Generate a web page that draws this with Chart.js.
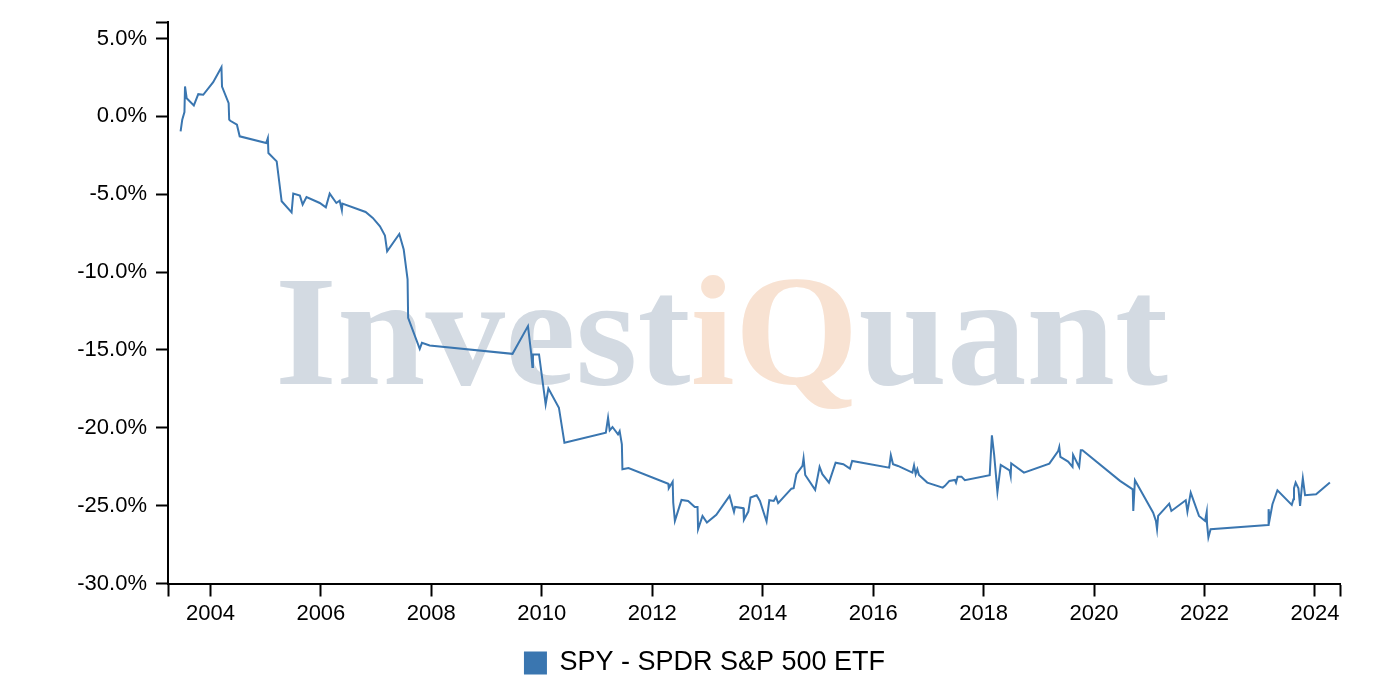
<!DOCTYPE html>
<html>
<head>
<meta charset="utf-8">
<script src="https://cdn.jsdelivr.net/npm/chart.js@4.4.1/dist/chart.umd.min.js"></script>
<style>
html,body{margin:0;padding:0;background:#fff;}
#wrap{width:1378px;height:696px;position:relative;}
</style>
</head>
<body>
<div id="wrap"><canvas id="c"></canvas></div>
<script>
const seriesName = 'SPY - SPDR S&P 500 ETF';
// decimal years
const dates = [2003.46,2003.49,2003.53,2003.54,2003.57,2003.70,2003.78,2003.87,2004.05,2004.20,
2004.21,2004.33,2004.34,2004.36,2004.48,2004.53,2005.01,2005.04,2005.05,2005.20,
2005.29,2005.47,2005.50,2005.62,2005.67,2005.74,2005.98,2006.09,2006.16,2006.28,
2006.34,2006.38,2006.39,2006.81,2006.94,2007.07,2007.16,2007.20,2007.42,2007.50,
2007.57,2007.58,2007.79,2007.83,2007.97,2009.47,2009.75,2009.81,2009.83,2009.84,
2009.95,2010.07,2010.12,2010.31,2010.41,2011.16,2011.20,2011.23,2011.28,2011.38,
2011.41,2011.45,2011.46,2011.57,2012.29,2012.30,2012.37,2012.38,2012.41,2012.53,
2012.65,2012.77,2012.82,2012.83,2012.91,2012.99,2013.16,2013.40,2013.45,2013.48,
2013.50,2013.65,2013.66,2013.74,2013.78,2013.89,2013.95,2014.07,2014.12,2014.20,
2014.24,2014.28,2014.52,2014.56,2014.61,2014.72,2014.74,2014.77,2014.95,2015.03,
2015.08,2015.20,2015.32,2015.46,2015.58,2015.62,2016.29,2016.32,2016.36,2016.45,
2016.71,2016.74,2016.77,2016.80,2016.83,2016.98,2017.26,2017.30,2017.38,2017.48,
2017.50,2017.53,2017.60,2017.66,2018.11,2018.15,2018.19,2018.25,2018.31,2018.47,
2018.49,2018.50,2018.73,2019.19,2019.35,2019.37,2019.39,2019.53,2019.61,2019.62,
2019.73,2019.76,2019.79,2020.47,2020.70,2020.71,2020.74,2021.07,2021.12,2021.14,
2021.16,2021.36,2021.40,2021.66,2021.69,2021.75,2021.90,2022.01,2022.04,2022.045,
2022.07,2022.11,2023.15,2023.16,2023.18,2023.23,2023.32,2023.58,2023.61,2023.62,
2023.65,2023.70,2023.73,2023.76,2023.78,2023.82,2024.02,2024.27];
// percent values
const spyReturns = [-0.96,-0.21,0.28,1.92,1.17,0.71,1.43,1.39,2.20,3.16,
1.92,0.85,-0.21,-0.28,-0.53,-1.28,-1.71,-1.39,-2.35,-2.89,
-5.45,-6.16,-4.96,-5.09,-5.66,-5.18,-5.56,-5.84,-4.96,-5.56,
-5.41,-6.03,-5.60,-6.14,-6.52,-7.06,-7.65,-8.66,-7.55,-8.55,
-10.47,-12.94,-14.93,-14.54,-14.71,-15.25,-13.47,-15.29,-16.10,-15.29,
-15.29,-18.49,-17.47,-18.71,-20.96,-20.31,-19.35,-20.16,-19.95,-20.42,
-20.21,-21.06,-22.66,-22.58,-23.59,-23.88,-23.46,-24.80,-25.98,-24.63,
-24.70,-25.08,-25.08,-26.51,-25.66,-26.09,-25.59,-24.37,-25.02,-25.40,
-25.08,-25.16,-25.91,-25.38,-24.48,-24.33,-24.70,-26.02,-24.65,-24.70,
-24.44,-24.84,-23.91,-23.88,-22.98,-22.45,-21.96,-23.03,-23.99,-22.51,
-22.98,-23.52,-22.24,-22.34,-22.62,-22.13,-22.56,-21.76,-22.34,-22.45,
-22.88,-22.41,-22.98,-22.66,-23.03,-23.52,-23.84,-23.73,-23.41,-23.35,
-23.52,-23.14,-23.14,-23.37,-23.05,-20.48,-21.70,-24.12,-22.39,-22.73,
-23.09,-22.28,-22.88,-22.30,-21.49,-21.23,-21.87,-22.17,-22.51,-21.74,
-22.51,-21.44,-21.44,-23.41,-23.95,-25.34,-23.37,-25.45,-25.98,-26.51,
-25.66,-24.87,-25.34,-24.65,-25.38,-24.16,-25.66,-25.98,-25.40,-26.14,
-27.04,-26.51,-26.25,-25.23,-25.87,-24.91,-24.01,-24.95,-24.59,-23.88,
-23.52,-23.88,-25.02,-23.88,-23.24,-24.33,-24.27,-23.52];
const xTickYears = [2004,2006,2008,2010,2012,2014,2016,2018,2020,2022,2024];
const yTickValues = [-30,-25,-20,-15,-10,-5,0,5];
const xRange = [2003.232, 2024.453];
const yRange = [-30, 6.05];
const watermarkParts = [['Invest','#d3dae2'],['iQ','#f8e2d2'],['uant','#d3dae2']];

const FONT = '"Liberation Sans", Arial, Helvetica, sans-serif';
const LINE_COLOR = '#3a76b0';

const watermark = {
  id: 'watermark',
  beforeDatasetsDraw(chart) {
    const ctx = chart.ctx;
    ctx.save();
    ctx.font = 'bold 156px "Liberation Serif", "Times New Roman", serif';
    ctx.textBaseline = 'alphabetic';
    let total = 0;
    for (const p of watermarkParts) total += ctx.measureText(p[0]).width;
    const left = 275, right = 1168, base = 384;
    ctx.translate(left, base);
    ctx.scale((right - left) / total, 1);
    let x = 0;
    for (const [t, c] of watermarkParts) {
      ctx.fillStyle = c;
      ctx.fillText(t, x, 0);
      x += ctx.measureText(t).width;
    }
    ctx.restore();
  }
};

new Chart(document.getElementById('c'), {
  type: 'line',
  data: {
    datasets: [{
      label: seriesName,
      data: dates.map((d, i) => ({x: d, y: spyReturns[i]})),
      borderColor: LINE_COLOR,
      backgroundColor: LINE_COLOR,
      borderWidth: 2,
      pointRadius: 0,
      pointHoverRadius: 0,
      tension: 0,
      fill: false
    }]
  },
  options: {
    responsive: true,
    maintainAspectRatio: false,
    animation: false,
    layout: { padding: { left: 70, right: 38, top: 20.7, bottom: 9.5 } },
    plugins: {
      tooltip: { enabled: false },
      legend: {
        position: 'bottom',
        labels: {
          color: '#000',
          font: { family: FONT, size: 27 },
          boxWidth: 21,
          boxHeight: 21,
          padding: 10
        }
      }
    },
    scales: {
      x: {
        type: 'linear',
        min: xRange[0],
        max: xRange[1],
        afterBuildTicks: s => { s.ticks = [xRange[0], ...xTickYears, xRange[1]].map(v => ({value: v})); },
        afterFit: s => { s.height = 56; },
        ticks: {
          autoSkip: false, maxRotation: 0, minRotation: 0, padding: 4,
          color: '#000', font: { family: FONT, size: 22 },
          callback: v => xTickYears.includes(v) ? String(v) : ''
        },
        grid: { drawOnChartArea: false, drawTicks: true, tickLength: 13, tickWidth: 2, tickColor: '#000' },
        border: { display: true, color: '#000', width: 2 }
      },
      y: {
        type: 'linear',
        min: yRange[0],
        max: yRange[1],
        afterBuildTicks: s => { s.ticks = [...yTickValues, yRange[1]].map(v => ({value: v})); },
        afterFit: s => { s.width = 98; },
        ticks: {
          autoSkip: false, padding: 9,
          color: '#000', font: { family: FONT, size: 22 },
          callback: v => yTickValues.includes(v) ? v.toFixed(1) + '%' : ''
        },
        grid: { drawOnChartArea: false, drawTicks: true, tickLength: 12, tickWidth: 2, tickColor: '#000' },
        border: { display: true, color: '#000', width: 2 }
      }
    }
  },
  plugins: [watermark]
});
</script>
</body>
</html>
